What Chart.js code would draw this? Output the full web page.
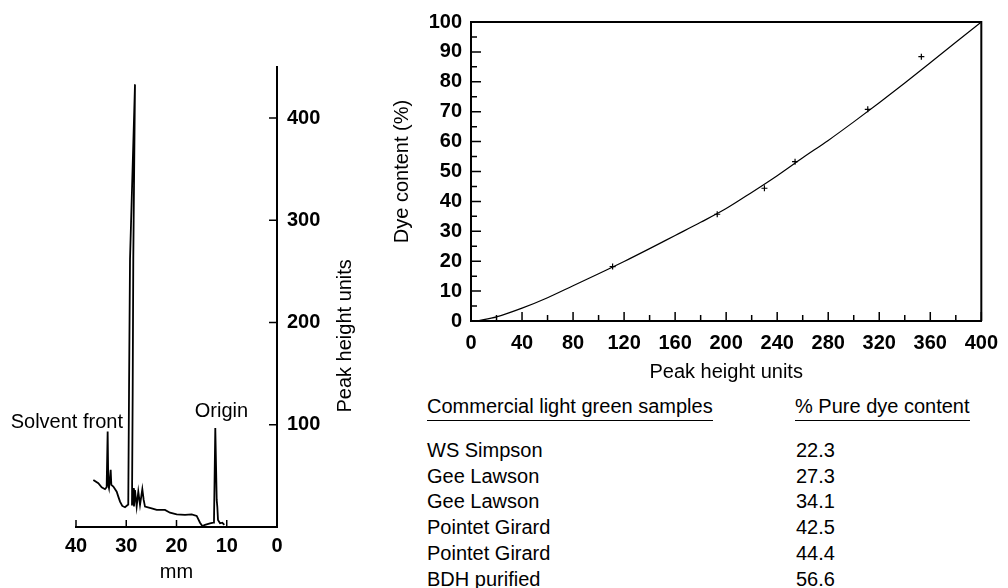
<!DOCTYPE html>
<html>
<head>
<meta charset="utf-8">
<script src="https://cdn.jsdelivr.net/npm/chart.js@4.4.1/dist/chart.umd.min.js"></script>
<style>
body{margin:0;background:#fff;width:1008px;height:588px;overflow:hidden;position:relative;font-family:"Liberation Sans",Arial,sans-serif;color:#000}
#trace{position:absolute;left:0;top:0}
#calib{position:absolute;left:380px;top:0}
.cell{position:absolute;font-size:20px;line-height:22px;white-space:nowrap}
.head span{display:inline-block;border-bottom:1.5px solid #000;padding-bottom:3px}
</style>
</head>
<body>
<canvas id="trace" width="390" height="588"></canvas>
<canvas id="calib" width="628" height="390"></canvas>
<div id="table"></div>
<script>
// densitometer trace: distance (mm) vs peak height
const traceMm = [36.55, 35.56, 34.89, 34.23, 33.9, 33.7, 33.57, 33.43, 33.1, 32.97, 32.57, 31.9, 31.58, 31.24, 30.79, 30.25,
  29.6, 29.45, 29.25, 28.26, 28.6, 28.72, 28.86, 28.6, 28.46, 28.26, 27.93, 27.6, 27.26, 26.8, 26.53, 26.27,
  24.94, 23.94, 22.29, 21.29, 19.96, 18.31, 16.98, 15.98, 15.32, 14.86, 14.33, 13.33, 12.68,
  12.54, 12.28, 12.0, 11.88, 11.74, 11.34, 10.88, 10.49];
const traceHeight = [46, 42.8, 38.9, 37, 38.9, 93.4, 41.2, 38, 55.9, 41.2, 39.5, 34.6, 29.7, 24.8, 20.6, 19.3,
  22, 131, 262, 433, 262, 131, 21, 38, 20, 36, 20, 34.6, 21.6, 37, 26.5, 20,
  18.3, 16.7, 16.7, 14, 12.4, 11.8, 12.4, 10.8, 4.2, 1, 2, 3.6, 4.2,
  5.2, 96.8, 26.5, 20, 6.9, 3.6, 4.2, 2];
const mmTicks = [40, 30, 20, 10, 0];
const heightTicks = [100, 200, 300, 400];

// calibration: samples and fitted curve
const sampleHeight = [111, 193, 230, 254, 311, 353];
const sampleDye = [18.2, 35.7, 44.4, 53.3, 70.8, 88.4];
const curveHeight = [5, 20, 40, 60, 80, 100, 120, 140, 160, 180, 200, 220, 240, 260, 280, 300, 320, 340, 360, 380, 400];
const curveDye = [0, 1.4, 4.3, 7.8, 11.8, 15.8, 19.9, 24.2, 28.6, 33.0, 37.6, 43.0, 48.6, 54.6, 60.4, 66.6, 73.0, 79.6, 86.4, 93.2, 100];

// table
const sampleNames = ['WS Simpson', 'Gee Lawson', 'Gee Lawson', 'Pointet Girard', 'Pointet Girard', 'BDH purified'];
const pureDye = ['22.3', '27.3', '34.1', '42.5', '44.4', '56.6'];

const FONT = '"Liberation Sans", Arial, sans-serif';
Chart.defaults.font.family = FONT;
Chart.defaults.color = '#000';

function tickMarks(chart, axis, values, len, side){
  const ctx = chart.ctx, a = chart.chartArea, s = chart.scales[axis];
  ctx.save();
  ctx.strokeStyle = '#000';
  ctx.lineWidth = 1.5;
  ctx.beginPath();
  values.forEach(v => {
    const p = s.getPixelForValue(v);
    if(side === 'bottom'){ ctx.moveTo(p, a.bottom); ctx.lineTo(p, a.bottom - len); }
    if(side === 'left'){ ctx.moveTo(a.left, p); ctx.lineTo(a.left + len, p); }
    if(side === 'right'){ ctx.moveTo(a.right, p); ctx.lineTo(a.right - len, p); }
  });
  ctx.stroke();
  ctx.restore();
}

function xy(xs, ys){ return xs.map((x, i) => ({x: x, y: ys[i]})); }

const noGrid = {display: false, drawTicks: false};
const axisLine = {display: true, color: '#000', width: 2};

new Chart(document.getElementById('trace'), {
  type: 'scatter',
  data: {datasets: [{
    data: xy(traceMm, traceHeight),
    showLine: true, borderColor: '#000', borderWidth: 1.8, pointRadius: 0, tension: 0
  }]},
  options: {
    responsive: false, animation: false,
    layout: {padding: {left: 76, top: 67, right: 0, bottom: 0}},
    plugins: {legend: {display: false}, tooltip: {enabled: false}},
    scales: {
      x: {
        type: 'linear', reverse: true, min: 0, max: 40,
        afterBuildTicks: s => { s.ticks = mmTicks.map(v => ({value: v})); },
        afterFit: s => { s.height = 61; },
        grid: noGrid,
        border: axisLine,
        ticks: {padding: 7, font: {size: 20, weight: 'bold'}},
        title: {display: true, text: 'mm', font: {size: 20}, padding: {top: 0, bottom: 4}}
      },
      y: {
        position: 'right', min: 0, max: 450,
        afterBuildTicks: s => { s.ticks = heightTicks.map(v => ({value: v})); },
        afterFit: s => { s.width = 113; },
        grid: noGrid,
        border: axisLine,
        ticks: {padding: 10, font: {size: 20, weight: 'bold'}}
      }
    }
  },
  plugins: [{
    id: 'traceDecor',
    afterDraw(chart){
      tickMarks(chart, 'x', mmTicks.slice(0, 4), 7, 'bottom');
      tickMarks(chart, 'y', heightTicks, 8, 'right');
      const ctx = chart.ctx, xs = chart.scales.x, ys = chart.scales.y;
      ctx.save();
      ctx.fillStyle = '#000';
      ctx.font = '20px ' + FONT;
      ctx.textBaseline = 'middle';
      ctx.textAlign = 'right';
      ctx.fillText('Solvent front', xs.getPixelForValue(30.65), ys.getPixelForValue(102));
      ctx.textAlign = 'center';
      ctx.fillText('Origin', xs.getPixelForValue(11.05), ys.getPixelForValue(113));
      ctx.translate(345, ys.getPixelForValue(187));
      ctx.rotate(-Math.PI / 2);
      ctx.fillText('Peak height units', 0, 0);
      ctx.restore();
    }
  }]
});

new Chart(document.getElementById('calib'), {
  type: 'scatter',
  data: {datasets: [
    {
      data: xy(curveHeight, curveDye),
      showLine: true, borderColor: '#000', borderWidth: 1.2, pointRadius: 0, cubicInterpolationMode: 'monotone'
    },
    {
      data: xy(sampleHeight, sampleDye),
      pointStyle: 'cross', pointRadius: 3, borderColor: '#000', borderWidth: 1.2
    }
  ]},
  options: {
    responsive: false, animation: false,
    layout: {padding: {left: 0, top: 22, right: 22, bottom: 0}},
    plugins: {legend: {display: false}, tooltip: {enabled: false}},
    scales: {
      x: {
        type: 'linear', min: 0, max: 400,
        ticks: {stepSize: 40, padding: 10, font: {size: 20, weight: 'bold'}},
        afterFit: s => { s.height = 69; },
        grid: noGrid,
        border: axisLine,
        title: {display: true, text: 'Peak height units', font: {size: 20}, padding: {top: 0, bottom: 6}}
      },
      y: {
        min: 0, max: 100,
        ticks: {stepSize: 10, padding: 9, font: {size: 20, weight: 'bold'}},
        afterFit: s => { s.width = 91; },
        grid: noGrid,
        border: axisLine,
        title: {display: true, text: 'Dye content (%)', font: {size: 20}, padding: {top: 10, bottom: 0}}
      }
    }
  },
  plugins: [{
    id: 'calibDecor',
    afterDraw(chart){
      const xs = chart.scales.x, ys = chart.scales.y;
      tickMarks(chart, 'x', xs.ticks.map(t => t.value), 9, 'bottom');
      tickMarks(chart, 'x', xs.ticks.map(t => t.value + 20).filter(v => v < 400), 6, 'bottom');
      tickMarks(chart, 'y', ys.ticks.map(t => t.value), 10, 'left');
      tickMarks(chart, 'y', ys.ticks.map(t => t.value + 5).filter(v => v < 100), 6, 'left');
      const a = chart.chartArea, ctx = chart.ctx;
      ctx.save();
      ctx.strokeStyle = '#000';
      ctx.lineWidth = 2;
      ctx.beginPath();
      ctx.moveTo(a.left, a.top);
      ctx.lineTo(a.right, a.top);
      ctx.lineTo(a.right, a.bottom);
      ctx.stroke();
      ctx.restore();
    }
  }]
});

// sample table under the calibration plot
const table = document.getElementById('table');
function cell(text, left, top, cls){
  const d = document.createElement('div');
  d.className = 'cell' + (cls ? ' ' + cls : '');
  d.style.left = left + 'px';
  d.style.top = top + 'px';
  if(cls === 'head'){
    const s = document.createElement('span');
    s.textContent = text;
    d.appendChild(s);
  } else {
    d.textContent = text;
  }
  table.appendChild(d);
}
cell('Commercial light green samples', 427, 395, 'head');
cell('% Pure dye content', 795, 395, 'head');
sampleNames.forEach((n, i) => {
  cell(n, 427, 439 + i * 25.7);
  cell(pureDye[i], 796, 439 + i * 25.7);
});
</script>
</body>
</html>
